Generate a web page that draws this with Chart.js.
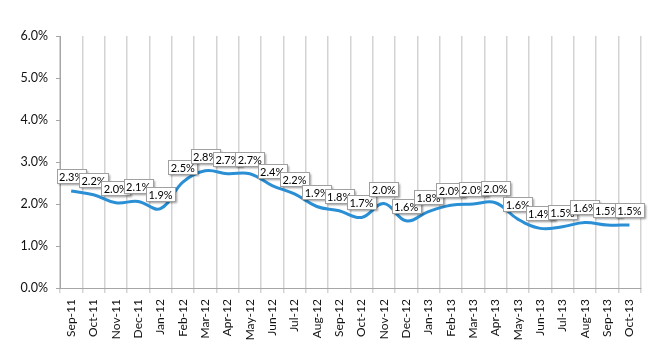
<!DOCTYPE html>
<html>
<head>
<meta charset="utf-8">
<script src="https://cdn.jsdelivr.net/npm/chart.js@4"></script>
<style>
    html, body { margin: 0; padding: 0; background: #fff; }
    #wrap { width: 650px; height: 350px; }
</style>
</head>
<body>
<div id="wrap"><canvas id="rateChart" width="650" height="350"></canvas></div>
<script>
// months along the x axis
const months = ['Sep-11', 'Oct-11', 'Nov-11', 'Dec-11', 'Jan-12', 'Feb-12', 'Mar-12', 'Apr-12',
    'May-12', 'Jun-12', 'Jul-12', 'Aug-12', 'Sep-12', 'Oct-12', 'Nov-12', 'Dec-12', 'Jan-13',
    'Feb-13', 'Mar-13', 'Apr-13', 'May-13', 'Jun-13', 'Jul-13', 'Aug-13', 'Sep-13', 'Oct-13'];

// rate in percent
const rates = [2.31, 2.22, 2.03, 2.06, 1.89, 2.52, 2.79, 2.72, 2.72, 2.44, 2.24, 1.94, 1.84,
    1.68, 2.01, 1.60, 1.82, 1.97, 2.00, 2.03, 1.64, 1.42, 1.46, 1.56, 1.50, 1.50];

const yTicks = [0, 1, 2, 3, 4, 5, 6];

const fontFamily = 'Lato, sans-serif';

// boxed value labels above each point
const boxLabels = {
    id: 'boxLabels',
    afterDatasetsDraw(chart) {
        const ctx = chart.ctx;
        const meta = chart.getDatasetMeta(0);
        ctx.save();
        ctx.font = '11px ' + fontFamily;
        ctx.textAlign = 'center';
        ctx.textBaseline = 'middle';
        meta.data.forEach((pt, i) => {
            const text = rates[i].toFixed(1) + '%';
            const w = Math.round(ctx.measureText(text).width + 5);
            const h = 14;
            const x = Math.round(pt.x - w / 2) + 0.5;
            const y = Math.round(pt.y - 8 - h) + 0.5;
            ctx.shadowColor = 'rgba(0,0,0,0.4)';
            ctx.shadowOffsetX = 1.5;
            ctx.shadowOffsetY = 1.5;
            ctx.shadowBlur = 2;
            ctx.fillStyle = '#fff';
            ctx.fillRect(x, y, w, h);
            ctx.shadowColor = 'transparent';
            ctx.strokeStyle = '#a0a0a0';
            ctx.lineWidth = 1;
            ctx.strokeRect(x, y, w, h);
            ctx.fillStyle = '#000';
            ctx.fillText(text, pt.x, y + h / 2 + 0.5);
        });
        ctx.restore();
    }
};

const ctx = document.getElementById('rateChart').getContext('2d');
new Chart(ctx, {
    type: 'line',
    data: {
        labels: months,
        datasets: [{
            data: rates,
            borderColor: '#2a8fd4',
            borderWidth: 3,
            tension: 0.4,
            pointRadius: 0,
            fill: false
        }]
    },
    options: {
        responsive: false,
        animation: false,
        devicePixelRatio: 1,
        layout: { padding: { left: 0, top: 36, right: 8, bottom: 0 } },
        plugins: {
            legend: { display: false },
            tooltip: { enabled: false }
        },
        scales: {
            x: {
                offset: true,
                grid: { offset: true, color: '#d3d3d3', lineWidth: 1.5, tickLength: 5 },
                border: { color: '#a6a6a6', width: 1 },
                ticks: {
                    autoSkip: false,
                    minRotation: 90,
                    maxRotation: 90,
                    padding: 6,
                    color: '#111',
                    font: { family: fontFamily, size: 12 }
                },
                afterFit: (scale) => { scale.height = 62; }
            },
            y: {
                min: yTicks[0],
                max: yTicks[yTicks.length - 1],
                afterBuildTicks: (scale) => { scale.ticks = yTicks.map(v => ({ value: v })); },
                grid: { drawOnChartArea: false, color: '#a6a6a6', tickLength: 4 },
                border: { color: '#a6a6a6', width: 1 },
                ticks: {
                    padding: 8,
                    color: '#111',
                    font: { family: fontFamily, size: 12.5 },
                    callback: (v) => Number(v).toFixed(1) + '%'
                },
                afterFit: (scale) => { scale.width = 60; }
            }
        }
    },
    plugins: [boxLabels]
});
</script>
</body>
</html>
